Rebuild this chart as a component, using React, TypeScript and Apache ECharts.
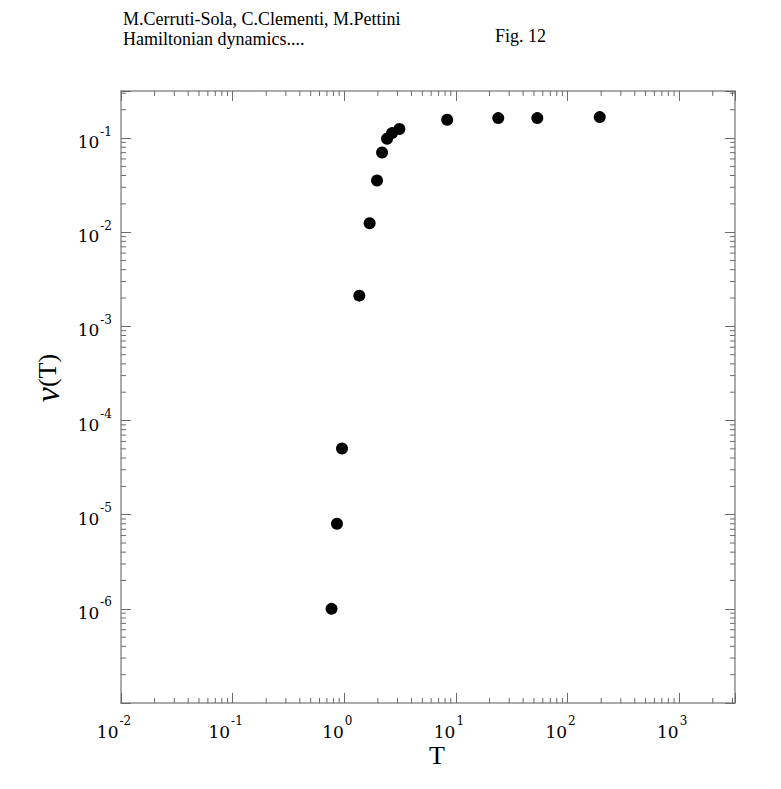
import React, { useEffect, useRef } from 'react';
import * as echarts from 'echarts';

// Data
const temperature = [0.769, 0.86, 0.954, 1.364, 1.687, 1.966, 2.18, 2.417, 2.681, 3.117, 8.35, 23.95, 53.6, 194.3];
const nuValues = [1.0e-6, 8.0e-6, 5.04e-5, 2.12e-3, 0.01247, 0.0354, 0.0703, 0.0983, 0.113, 0.1247, 0.1566, 0.163, 0.163, 0.167];

// Axis ranges / tick definitions
const xMin = 0.01;
const xMax = Math.pow(10, 3.5);
const yMin = 1e-7;
const yMax = Math.pow(10, -0.5);
const xDecades = [-2, -1, 0, 1, 2, 3];
const yDecades = [-7, -6, -5, -4, -3, -2, -1];
const yLabelledDecades = [-6, -5, -4, -3, -2, -1];
const minorMultipliers = [2, 3, 4, 5, 6, 7, 8, 9];

const titleLines = ['M.Cerruti-Sola, C.Clementi, M.Pettini', 'Hamiltonian dynamics....'];
const figLabel = 'Fig. 12';
const xName = 'T';
const yNameSymbol = 'ν';
const yNameRest = '(T)';

const SERIF = "'Liberation Serif', 'Times New Roman', serif";
const LABEL_SERIF = "'DejaVu Serif', serif";
const axisColor = '#8f8f8f';
const tickColor = '#6a6a6a';

const xMinorTicks = xDecades.flatMap((n) => minorMultipliers.map((k) => k * Math.pow(10, n))).filter((v) => v < xMax);
const yMinorTicks = yDecades.flatMap((n) => minorMultipliers.map((k) => k * Math.pow(10, n))).filter((v) => v < yMax);

const makeFmt = (allowed: number[]) => (v: number) => {
  const l = Math.log10(v);
  const r = Math.round(l);
  if (Math.abs(l - r) > 1e-6 || allowed.indexOf(r) < 0) return '';
  return `{b|10}{e|${r}}`;
};

const labelRich = {
  b: { fontSize: 17, fontFamily: LABEL_SERIF, color: '#000', lineHeight: 25, verticalAlign: 'bottom' },
  e: { fontSize: 12, fontFamily: LABEL_SERIF, color: '#000', lineHeight: 12, verticalAlign: 'top', padding: [0, 0, 0, 1] },
};

const makeAxisBase = () => ({
  type: 'log' as const,
  logBase: 10,
  axisLine: { show: true, onZero: false, lineStyle: { color: axisColor, width: 1.5 } },
  axisTick: { show: true, inside: true, length: 10, lineStyle: { color: tickColor, width: 1 } },
  splitLine: { show: false },
  minorTick: { show: false },
});

export default function App() {
  const ref = useRef<HTMLDivElement>(null);
  useEffect(() => {
    if (!ref.current) return;
    const chart = echarts.init(ref.current, undefined, { renderer: 'svg' });
    const textStyle = (extra: any) => ({ fontFamily: SERIF, fill: '#000', ...extra });
    const option: any = {
      animation: false,
      backgroundColor: '#fff',
      grid: { left: 121, right: 46, top: 91, bottom: 86, containLabel: false },
      xAxis: [
        {
          ...makeAxisBase(),
          position: 'bottom',
          min: xMin,
          max: xMax,
          axisLabel: { show: true, margin: 12, formatter: makeFmt(xDecades), rich: labelRich, padding: [0, 14, 0, 0] },
        },
        {
          ...makeAxisBase(),
          position: 'top',
          min: xMin,
          max: xMax,
          axisLabel: { show: false },
        },
      ],
      yAxis: [
        {
          ...makeAxisBase(),
          position: 'left',
          min: yMin,
          max: yMax,
          axisLabel: { show: true, margin: 9, formatter: makeFmt(yLabelledDecades), rich: labelRich },
        },
        {
          ...makeAxisBase(),
          position: 'right',
          min: yMin,
          max: yMax,
          axisLabel: { show: false },
        },
      ],
      series: [
        {
          type: 'custom',
          xAxisIndex: 0,
          yAxisIndex: 0,
          silent: true,
          clip: false,
          z: 1,
          data: xMinorTicks.map((v) => [v, yMin]),
          renderItem: (_p: any, api: any) => {
            const v = api.value(0);
            const b = api.coord([v, yMin]);
            const t = api.coord([v, yMax]);
            return {
              type: 'group',
              children: [
                { type: 'line', shape: { x1: b[0], y1: b[1], x2: b[0], y2: b[1] - 5 }, style: { stroke: tickColor, lineWidth: 1 } },
                { type: 'line', shape: { x1: t[0], y1: t[1], x2: t[0], y2: t[1] + 5 }, style: { stroke: tickColor, lineWidth: 1 } },
              ],
            };
          },
        },
        {
          type: 'custom',
          xAxisIndex: 0,
          yAxisIndex: 0,
          silent: true,
          clip: false,
          z: 1,
          data: yMinorTicks.map((v) => [xMin, v]),
          renderItem: (_p: any, api: any) => {
            const v = api.value(1);
            const l = api.coord([xMin, v]);
            const r = api.coord([xMax, v]);
            return {
              type: 'group',
              children: [
                { type: 'line', shape: { x1: l[0], y1: l[1], x2: l[0] + 5, y2: l[1] }, style: { stroke: tickColor, lineWidth: 1 } },
                { type: 'line', shape: { x1: r[0], y1: r[1], x2: r[0] - 5, y2: r[1] }, style: { stroke: tickColor, lineWidth: 1 } },
              ],
            };
          },
        },
        {
          type: 'scatter',
          xAxisIndex: 0,
          yAxisIndex: 0,
          symbol: 'circle',
          symbolSize: 12,
          z: 5,
          itemStyle: { color: '#000', opacity: 1 },
          data: temperature.map((t, i) => [t, nuValues[i]]),
        },
      ],
      graphic: [
        {
          type: 'text',
          x: 123,
          y: 19,
          style: textStyle({ text: titleLines[0], fontSize: 18, align: 'left', verticalAlign: 'middle', textAlign: 'left', textVerticalAlign: 'middle' }),
        },
        {
          type: 'text',
          x: 123,
          y: 39,
          style: textStyle({ text: titleLines[1], fontSize: 18, align: 'left', verticalAlign: 'middle', textAlign: 'left', textVerticalAlign: 'middle' }),
        },
        {
          type: 'text',
          x: 495,
          y: 36,
          style: textStyle({ text: figLabel, fontSize: 18, align: 'left', verticalAlign: 'middle', textAlign: 'left', textVerticalAlign: 'middle' }),
        },
        {
          type: 'text',
          x: 437,
          y: 755,
          style: textStyle({ text: xName, fontSize: 26, align: 'center', verticalAlign: 'middle', textAlign: 'center', textVerticalAlign: 'middle' }),
        },
        {
          type: 'text',
          x: 47,
          y: 378,
          rotation: Math.PI / 2,
          style: {
            text: `{n|${yNameSymbol}}{t|${yNameRest}}`,
            align: 'center',
            verticalAlign: 'middle',
            textAlign: 'center',
            textVerticalAlign: 'middle',
            rich: {
              n: { fontSize: 34, fontStyle: 'italic', fontFamily: SERIF, color: '#000' },
              t: { fontSize: 26, fontFamily: SERIF, color: '#000' },
            },
          },
        },
      ],
    };
    chart.setOption(option);
    return () => chart.dispose();
  }, []);
  return <div ref={ref} style={{ position: 'absolute', left: 0, top: 0, width: 781, height: 789, background: '#fff' }} />;
}
